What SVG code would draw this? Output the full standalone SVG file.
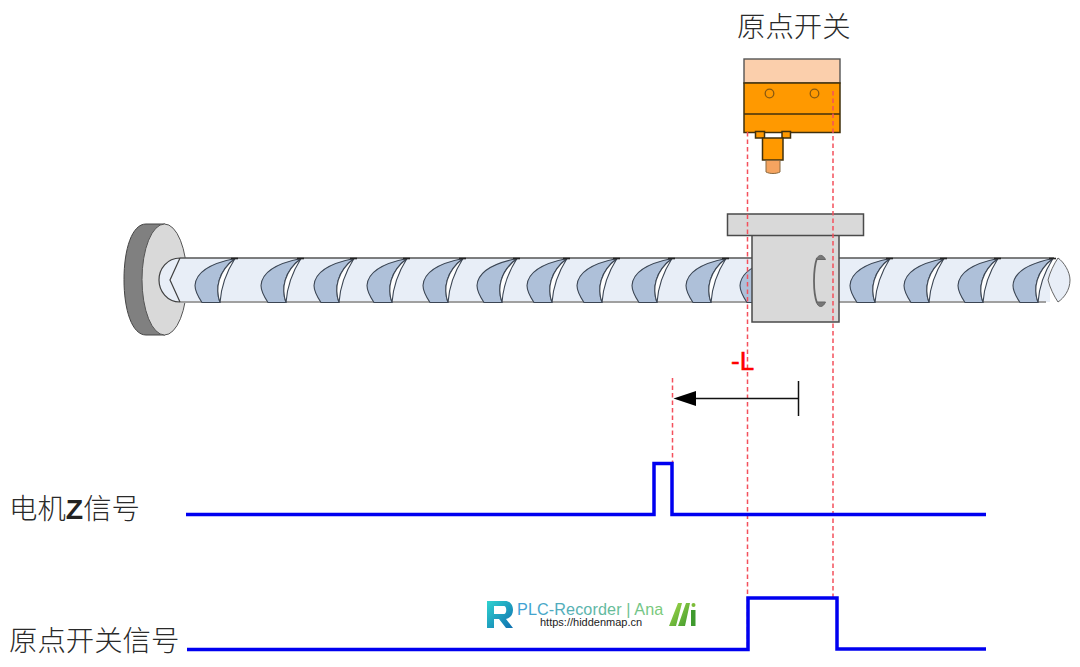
<svg xmlns="http://www.w3.org/2000/svg" width="1080" height="667" viewBox="0 0 1080 667">
<style>
.cjk{font-family:"Noto Sans CJK SC","Noto Sans",sans-serif;font-size:28.4px;font-weight:300;fill:#2a2a2a}
.ln{stroke:#404040;stroke-width:1.2;fill:none}
.sw{stroke:#40300c;stroke-width:1.5;fill:#FF9900}
.dash{stroke:#F4505C;stroke-width:1.5;stroke-dasharray:4.5 3;fill:none}
.sig{stroke:#0000F0;stroke-width:3.5;fill:none;stroke-linejoin:miter}
.gr{fill:#D9D9D9;stroke:#4a4a4a;stroke-width:1.5}
</style>
<defs>
<g id="thread">
<path d="M40,0 C20,4 1,11 0,27 C0,33 3,38 7,44 L25,44 C20,30 23,13 40,0Z" fill="#AEC0D9" stroke="#3c4654" stroke-width="1.1"/>
<path d="M40,0 C23,13 20,30 25,44 C26,30 31,14 40,0Z" fill="#fff" stroke="#3c4654" stroke-width="1.1"/>
<path d="M36,0 L43,0" stroke="#222" stroke-width="1.6"/>
</g>
<linearGradient id="lg" gradientUnits="userSpaceOnUse" x1="517" y1="0" x2="664" y2="0">
<stop offset="0" stop-color="#3E9FD8"/><stop offset="1" stop-color="#7CCB78"/>
</linearGradient>
<linearGradient id="rg" x1="0" y1="0" x2="1" y2="1">
<stop offset="0" stop-color="#2FD3CF"/><stop offset="1" stop-color="#0F6FB0"/>
</linearGradient>
<linearGradient id="mg" x1="0" y1="0" x2="1" y2="1">
<stop offset="0" stop-color="#A6D94A"/><stop offset="1" stop-color="#3F9A2E"/>
</linearGradient>
</defs>
<rect width="1080" height="667" fill="#fff"/>

<g id="screw">
<path d="M146,224 L165,224 L165,335 L146,335 C132,335 124,310 124,279.5 C124,249 132,224 146,224Z" fill="#808080" stroke="#444" stroke-width="1"/>
<ellipse cx="164.5" cy="279.5" rx="22.5" ry="55.5" fill="#D9D9D9" stroke="#555" stroke-width="1"/>
<path d="M180,258 L1050,258 L1050,302 L180,302 C167,302 159,291 159,280 C159,269 167,258 180,258Z" fill="#E8EEF7"/>
<path d="M180,258 L1054,258" stroke="#555" stroke-width="1.4"/>
<path d="M180,302 L1046,302" stroke="#a0a0a0" stroke-width="1.8"/>
<path d="M180,258 C167,258 159,269 159,280 C159,291 167,302 180,302 M180,258 L170,280 L180,302" class="ln"/>
<use href="#thread" x="195" y="258.5"/>
<use href="#thread" x="261" y="258.5"/>
<use href="#thread" x="314" y="258.5"/>
<use href="#thread" x="367" y="258.5"/>
<use href="#thread" x="423" y="258.5"/>
<use href="#thread" x="477" y="258.5"/>
<use href="#thread" x="527" y="258.5"/>
<use href="#thread" x="577" y="258.5"/>
<use href="#thread" x="632" y="258.5"/>
<use href="#thread" x="686" y="258.5"/>
<use href="#thread" x="740" y="258.5"/>
<use href="#thread" x="850" y="258.5"/>
<use href="#thread" x="904" y="258.5"/>
<use href="#thread" x="958" y="258.5"/>
<use href="#thread" x="1013" y="258.5"/>
<path d="M1058,258 C1064,262 1070,272 1070,280 C1070,290 1064,298 1058,302 C1054,296 1050,288 1048,280 C1050,272 1054,264 1058,258Z" fill="#E8EEF7" stroke="#666" stroke-width="1"/>
</g>

<g id="nut">
<rect x="752" y="235" width="87" height="87" class="gr"/>
<rect x="727.5" y="214" width="136" height="21.5" class="gr"/>
<path d="M817,258 C813,270 813,292 817,303" fill="none" stroke="#666" stroke-width="1.8"/>
<path d="M816.5,259.5 C818,254 823,254 825.5,259.5Z M816.5,302 C818,308 823,308 825.5,302Z" fill="#777" stroke="#666"/>
</g>

<g id="switch">
<rect x="744" y="59" width="96" height="24" fill="#FBCFAC" stroke="#555" stroke-width="1.4"/>
<rect x="744" y="83" width="96" height="49.5" class="sw"/>
<path d="M744,114 H840" class="sw"/>
<circle cx="769.5" cy="93.5" r="4.3" fill="none" stroke="#8a5a10" stroke-width="1.3"/>
<circle cx="814.5" cy="93.5" r="4.3" fill="none" stroke="#8a5a10" stroke-width="1.3"/>
<rect x="755.5" y="131.5" width="9" height="6.5" class="sw"/>
<rect x="782" y="131.5" width="8.5" height="6.5" class="sw"/>
<rect x="762.5" y="138" width="20.5" height="22" class="sw"/>
<path d="M766,160.5 H780 V172 C776,174 770,174 766,172Z" fill="#F5A460" stroke="#8a6a40" stroke-width="1"/>
<text x="737" y="37" class="cjk">原点开关</text>
</g>

<g id="connectors">
<path d="M747.5,132 V650" class="dash"/>
<path d="M833,91 V600" class="dash"/>
<path d="M672.5,378 V463" class="dash"/>
<path d="M186,514.5 H654 V463.5 H672 V514.5 H986" class="sig"/>
<path d="M187,649.5 H748 V598 H837 V649 H986" class="sig"/>
<path d="M694,398.5 H798.5" stroke="#111" stroke-width="1.5" fill="none"/>
<path d="M798.5,381 V416" stroke="#111" stroke-width="1.5" fill="none"/>
<path d="M673.5,398.5 L696,391 V406Z" fill="#000"/>
</g>

<g id="labels">
<text x="731" y="369.5" font-family="Liberation Sans,sans-serif" font-size="26" stroke="#FF0000" stroke-width="0.5" fill="#FF0000">-L</text>
<text x="9" y="519" class="cjk">电机<tspan font-family="Liberation Sans,sans-serif" font-weight="700" font-size="28.4" fill="#222">Z</tspan>信号</text>
<text x="9" y="651" class="cjk">原点开关信号</text>
</g>

<g id="watermark">
<path d="M487,601 H505 C511,601 513,606 513,610 C513,615 510,618 506,619 L513,628 H506 L499,619 H494 V628 H487Z M494,606 V614 H504 C507,614 507,606 504,606Z" fill="url(#rg)" fill-rule="evenodd"/>
<text x="517" y="615" font-family="Liberation Sans,sans-serif" font-size="16.2" letter-spacing="0.1" fill="url(#lg)">PLC-Recorder | Ana</text>
<text x="540" y="626" font-family="Liberation Sans,sans-serif" font-size="11" fill="#222">https://hiddenmap.cn</text>
<path d="M669,626 L678,603 H682 L676,626Z M678,626 L686,603 H690 L685,626Z" fill="url(#mg)"/>
<path d="M691,610 H695.5 V626 H691Z" fill="#3F9A2E"/>
<circle cx="693.5" cy="605" r="2" fill="#7CBB38"/>
</g>
</svg>
